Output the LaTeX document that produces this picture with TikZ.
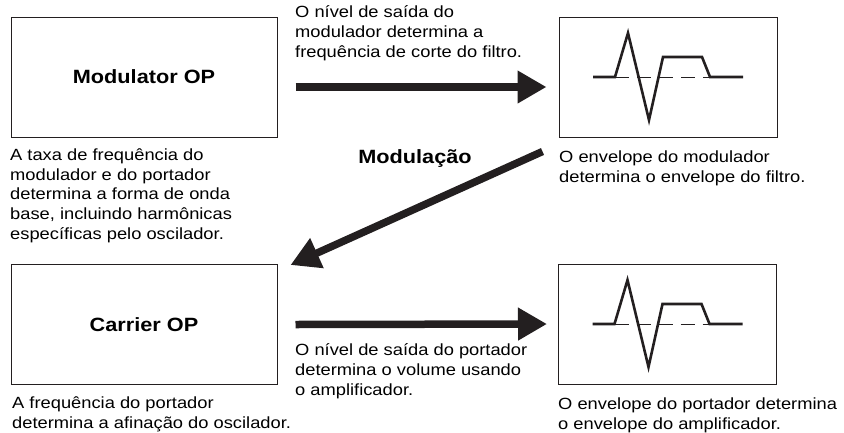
\documentclass[tikz,border=0pt]{standalone}
\usepackage{fontspec}
\setmainfont{Liberation Sans}[FakeStretch=1.13]
\usetikzlibrary{arrows.meta,calc}
\definecolor{inkblack}{RGB}{35,31,32}
\tikzset{
  opbox/.style={draw=inkblack,line width=1pt,minimum width=266pt,minimum height=120pt,inner sep=0pt,font=\fontsize{19.2}{22}\selectfont\bfseries},
  envbox/.style={draw=inkblack,line width=1pt,minimum width=218pt,minimum height=120pt,inner sep=0pt},
  note/.style={anchor=base west,align=left,inner sep=0pt,font=\fontsize{16.2}{19.6}\selectfont},
  bigarrow/.style={draw=inkblack,line width=7.5pt,-{Triangle[length=29pt,width=31pt]}},
}
% envelope curve inside a box
\newcommand{\envcurve}[1]{%
  \draw[shift={(#1)},inkblack,line width=0.8pt,dash pattern=on 14pt off 8pt] (-53,0) -- (42,0);
  \draw[shift={(#1)},inkblack,line width=2.6pt,line join=miter] (-75,0) -- (-53,0) -- (-40,44) -- (-19,-43) -- (-5,20) -- (34,20) -- (42,0) -- (75,0);
}
\begin{document}
\begin{tikzpicture}[x=1pt,y=1pt]
\useasboundingbox (0,0) rectangle (844,-432);
\node[opbox] (mod) at (144,-77) {Modulator OP};
\node[opbox] (car) at (144,-324.5) {Carrier OP};
\node[envbox] (env1) at (668,-77) {};
\node[envbox] (env2) at (667.5,-324) {};
\envcurve{env1.center}
\envcurve{env2.center}
\draw[bigarrow] ($(mod.east)+(18,-10)$) -- ($(env1.west)+(-12,-10)$);
\draw[bigarrow] ($(env1.south west)+(-16,-14)$) -- ($(car.north east)+(13,-1)$);
\draw[bigarrow] ($(car.east)+(18,0)$) -- ($(env2.west)+(-11,0)$);
\node[anchor=base,inner sep=0pt,font=\fontsize{19.2}{22}\selectfont\bfseries] (modlabel) at (415,-163) {Modulação};
% multi-line notes sit on the baseline of their last line
\node[note] (midtop) at (295,-57) {O nível de saída do\\modulador determina a\\frequência de corte do filtro.};
\node[note] (modcap) at (10,-239) {A taxa de frequência do\\modulador e do portador\\determina a forma de onda\\base, incluindo harmônicas\\específicas pelo oscilador.};
\node[note] (envcap1) at (559,-182) {O envelope do modulador\\determina o envelope do filtro.};
\node[note] (midbot) at (295,-395) {O nível de saída do portador\\determina o volume usando\\o amplificador.};
\node[note] (carcap) at (12,-428) {A frequência do portador\\determina a afinação do oscilador.};
\node[note] (envcap2) at (558,-429) {O envelope do portador determina\\o envelope do amplificador.};
\end{tikzpicture}
\end{document}
